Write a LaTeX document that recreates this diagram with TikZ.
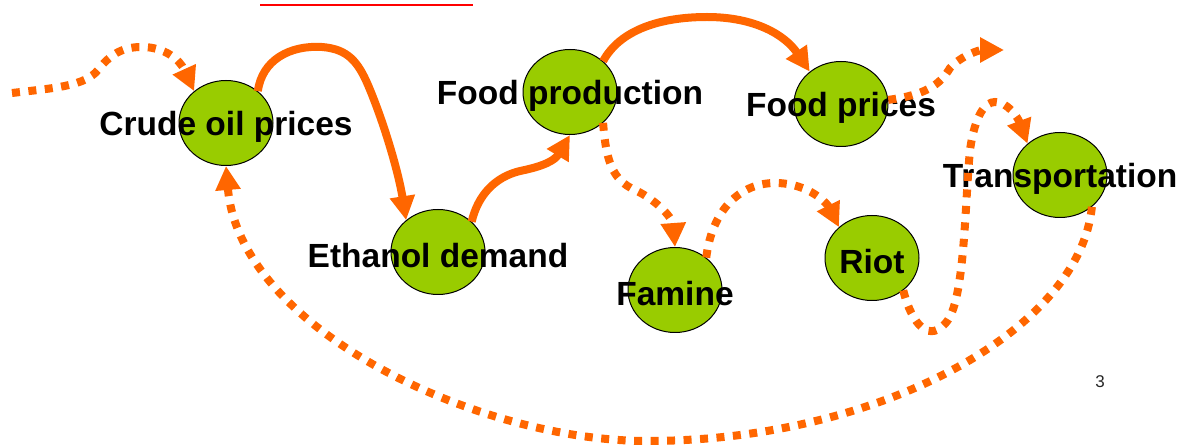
\documentclass[tikz,border=0pt]{standalone}
\usepackage{fontspec}
\setmainfont{Liberation Sans}
\usetikzlibrary{shapes.geometric,arrows.meta}
\definecolor{leaf}{HTML}{99CC00}
\definecolor{flame}{HTML}{FF6600}
\tikzset{
  blob/.style={ellipse, draw=black, line width=1pt, fill=leaf, minimum width=94pt, minimum height=85pt, inner sep=0pt},
  lbl/.style={font=\fontsize{33.5}{36}\selectfont\bfseries, text=black, inner sep=0pt, yshift=-4pt},
  solidarrow/.style={draw=flame, line width=8pt, -{Triangle[length=24pt,width=24pt]}},
  dotarrow/.style={draw=flame, line width=8pt, dash pattern=on 8pt off 8.5pt, -{Triangle[length=24pt,width=24pt]}},
}
\begin{document}
\begin{tikzpicture}[x=1pt,y=-1pt]
\useasboundingbox (0,0) rectangle (1195,446);
% top fragment
\draw[red, line width=2pt] (260,5) -- (473,5);
% nodes
\node[blob, label={[lbl]center:Crude oil prices}] (crude) at (226,123) {};
\node[blob, label={[lbl]center:Ethanol demand}] (eth) at (438,252) {};
\node[blob, label={[lbl]center:Food production}] (fprod) at (570,92) {};
\node[blob, label={[lbl]center:Food prices}] (fprice) at (841,104) {};
\node[blob, label={[lbl]center:Famine}] (famine) at (675,290) {};
\node[blob, label={[lbl]center:Riot}] (riot) at (872,258) {};
\node[blob, label={[lbl]center:Transportation}] (trans) at (1060,175) {};
\node[font=\fontsize{17}{20}\selectfont, text=black!85] (pnum) at (1100,382) {3};
% free ends
\coordinate (instart) at (12,93);
\coordinate (outend) at (1004,50);
% connectors
\draw[dotarrow] (instart) .. controls (55,88) and (85,86) .. (98,70)
   .. controls (112,52) and (125,47) .. (142,47)
   .. controls (165,47) and (180,60) .. (crude.135);
\draw[solidarrow] (crude.45) .. controls (262,60) and (290,45) .. (322,47)
   .. controls (348,49) and (358,62) .. (368,85)
   .. controls (385,125) and (399,175) .. (eth.135);
\draw[solidarrow] (eth.42) .. controls (478,195) and (495,177) .. (520,171)
   .. controls (545,166) and (555,160) .. (fprod.south);
\draw[solidarrow] (fprod.43) .. controls (620,30) and (660,17) .. (707,17)
   .. controls (755,17) and (785,35) .. (fprice.134);
\draw[dotarrow] (fprice.5) .. controls (925,95) and (940,85) .. (950,68)
   .. controls (962,55) and (980,50) .. (outend);
\draw[dotarrow] (fprod.-43) .. controls (606,160) and (612,180) .. (635,190)
   .. controls (660,202) and (673,220) .. (famine.north);
\draw[dotarrow] (famine.46) .. controls (712,210) and (740,183) .. (775,183)
   .. controls (810,183) and (828,205) .. (riot.137);
\draw[dotarrow] (riot.-46) .. controls (912,325) and (930,345) .. (948,320)
   .. controls (965,295) and (965,200) .. (970,150)
   .. controls (975,115) and (985,102) .. (995,102)
   .. controls (1008,102) and (1018,118) .. (trans.136);
\draw[dotarrow] (trans.-45) .. controls (1080,330) and (880,440) .. (650,441)
   .. controls (480,442) and (240,330) .. (crude.south);
\end{tikzpicture}
\end{document}
